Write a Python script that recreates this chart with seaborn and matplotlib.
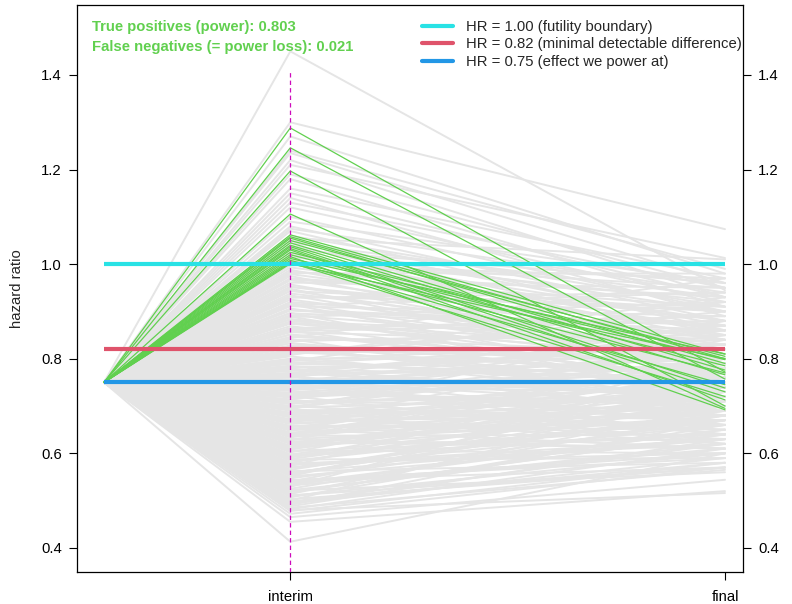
import numpy as np
import pandas as pd
import matplotlib
matplotlib.use("Agg")
import matplotlib.pyplot as plt
from matplotlib.lines import Line2D
import seaborn as sns

# ---------------- data ----------------
TIMES = [0.0, 0.3, 1.0]            # information fraction: start, interim, final
TICK_LABELS = ["interim", "final"]
START_HR = 0.75

# grey simulated trials: interim and final hazard ratio
GRAY_INTERIM = [
    1.45, 1.30, 1.27, 1.24, 1.235, 1.22, 1.21, 1.19, 1.18, 1.16,
    1.15, 1.14, 1.13, 1.12, 1.10, 1.09, 1.08, 1.075, 1.07, 1.06,
    1.055, 1.05, 1.045, 1.04, 1.035, 1.03, 1.025, 1.02, 1.015, 1.01, 1.005,
    0.998, 0.993, 0.988, 0.984, 0.979, 0.975, 0.970, 0.966, 0.961, 0.957,
    0.952, 0.948, 0.943, 0.938, 0.934, 0.929, 0.925, 0.920, 0.915, 0.911,
    0.906, 0.902, 0.897, 0.892, 0.888, 0.883, 0.879, 0.874, 0.869, 0.865,
    0.860, 0.856, 0.851, 0.846, 0.842, 0.837, 0.833, 0.828, 0.823, 0.819,
    0.814, 0.810, 0.805, 0.800, 0.797, 0.793, 0.789, 0.785, 0.781, 0.777,
    0.774, 0.770, 0.767, 0.763, 0.760, 0.756, 0.753, 0.749, 0.746, 0.742,
    0.739, 0.735, 0.732, 0.728, 0.725, 0.721, 0.718, 0.714, 0.711, 0.707,
    0.704, 0.700, 0.697, 0.693, 0.690, 0.686, 0.683, 0.679, 0.676, 0.672,
    0.669, 0.665, 0.662, 0.658, 0.655, 0.651, 0.648, 0.644, 0.641, 0.637,
    0.634, 0.630, 0.627, 0.623, 0.620, 0.616, 0.613, 0.609, 0.606, 0.602,
    0.598, 0.595, 0.591, 0.587, 0.584, 0.580, 0.576, 0.573, 0.569, 0.565,
    0.562, 0.558, 0.554, 0.551, 0.547, 0.543, 0.540, 0.536, 0.532, 0.529,
    0.525, 0.521, 0.518, 0.514, 0.510, 0.507, 0.503, 0.500, 0.497, 0.494,
    0.491, 0.488, 0.485, 0.482, 0.478,
    0.465, 0.455, 0.413, 0.480, 0.472,
    0.952, 0.931, 0.918, 0.903, 0.889, 0.876, 0.862, 0.851, 0.839, 0.826,
    0.817, 0.808, 0.799, 0.791, 0.784, 0.776, 0.769, 0.761, 0.754, 0.748,
    0.741, 0.734, 0.727, 0.720, 0.713, 0.706, 0.699, 0.692, 0.685, 0.678,
    0.671, 0.664, 0.657, 0.650, 0.643, 0.636, 0.629, 0.621, 0.613, 0.605,
    0.596, 0.588, 0.579, 0.570, 0.561, 0.552, 0.543, 0.533, 0.522, 0.511,
    0.981, 0.944, 0.913, 0.884, 0.858, 0.833, 0.812, 0.795, 0.779, 0.764,
    0.751, 0.737, 0.723, 0.709, 0.695, 0.681, 0.667, 0.652, 0.638, 0.624,
    0.609, 0.593, 0.576, 0.558, 0.539, 0.519, 0.498, 0.968, 0.896, 0.845,
]
GRAY_FINAL = [
    0.945, 1.074, 0.98, 0.99, 0.96, 0.93, 1.013, 0.95, 0.91, 0.97,
    0.93, 0.89, 0.95, 0.92, 0.90, 0.96, 0.88, 0.94, 0.86, 0.91,
    1.01, 0.87, 0.93, 0.85, 0.90, 0.96, 0.84, 0.88, 0.92, 0.86, 0.95,
    0.97, 0.88, 0.82, 0.93, 0.86, 0.79, 0.91, 0.84, 0.95, 0.80,
    0.87, 0.76, 0.90, 0.83, 0.78, 0.94, 0.81, 0.85, 0.74, 0.89,
    0.79, 0.86, 0.72, 0.82, 0.92, 0.77, 0.84, 0.80, 0.75, 0.88,
    0.73, 0.83, 0.78, 0.81, 0.70, 0.86, 0.76, 0.79, 0.82, 0.74,
    0.77, 0.90, 0.71, 0.80, 0.84, 0.75, 0.78, 0.68, 0.81, 0.76,
    0.83, 0.72, 0.78, 0.66, 0.87, 0.75, 0.70, 0.81, 0.64, 0.77,
    0.73, 0.85, 0.68, 0.79, 0.71, 0.62, 0.76, 0.82, 0.69, 0.74,
    0.80, 0.65, 0.72, 0.88, 0.67, 0.75, 0.70, 0.63, 0.78, 0.73,
    0.68, 0.84, 0.71, 0.66, 0.76, 0.61, 0.74, 0.69, 0.79, 0.64,
    0.72, 0.67, 0.81, 0.70, 0.63, 0.75, 0.68, 0.73, 0.60, 0.77,
    0.70, 0.64, 0.76, 0.59, 0.68, 0.73, 0.62, 0.80, 0.66, 0.71,
    0.58, 0.69, 0.74, 0.63, 0.67, 0.57, 0.72, 0.65, 0.61, 0.78,
    0.68, 0.56, 0.64, 0.70, 0.60, 0.66, 0.57, 0.73, 0.62, 0.59,
    0.67, 0.63, 0.565, 0.61, 0.58,
    0.544, 0.52, 0.60, 0.516, 0.57,
    0.84, 0.91, 0.78, 0.87, 0.74, 0.82, 0.89, 0.76, 0.85, 0.71,
    0.80, 0.93, 0.73, 0.83, 0.77, 0.69, 0.86, 0.72, 0.79, 0.66,
    0.75, 0.82, 0.70, 0.77, 0.64, 0.74, 0.80, 0.68, 0.72, 0.62,
    0.76, 0.70, 0.65, 0.79, 0.67, 0.73, 0.61, 0.69, 0.75, 0.64,
    0.66, 0.71, 0.60, 0.68, 0.63, 0.74, 0.59, 0.65, 0.62, 0.57,
    0.98, 0.81, 0.94, 0.79, 0.88, 0.73, 0.83, 0.92, 0.71, 0.80,
    0.85, 0.68, 0.78, 0.72, 0.82, 0.66, 0.74, 0.70, 0.77, 0.61,
    0.72, 0.67, 0.63, 0.69, 0.60, 0.64, 0.58, 0.90, 0.86, 0.97,
]

# green: stopped for futility at interim but would have succeeded at final
GREEN_INTERIM = [1.288, 1.246, 1.197, 1.106, 1.062, 1.058, 1.055, 1.050, 1.045, 1.040,
                 1.037, 1.033, 1.030, 1.025, 1.020, 1.016, 1.012, 1.008, 1.005, 1.003, 1.001]
GREEN_FINAL = [0.772, 0.757, 0.700, 0.695, 0.810, 0.800, 0.790, 0.805, 0.776, 0.766,
               0.738, 0.730, 0.713, 0.798, 0.785, 0.692, 0.810, 0.770, 0.745, 0.720, 0.800]

REF_HR = [1.00, 0.82, 0.75]
REF_LABELS = ["HR = 1.00 (futility boundary)",
              "HR = 0.82 (minimal detectable difference)",
              "HR = 0.75 (effect we power at)"]
POWER = 0.803
POWER_LOSS = 0.021
Y_TICKS = [0.4, 0.6, 0.8, 1.0, 1.2, 1.4]
VLINE_TOP = 1.41


def to_long(interim, final):
    rows = []
    for i, (a, b) in enumerate(zip(interim, final)):
        for t, v in zip(TIMES, [START_HR, a, b]):
            rows.append({"sim": i, "info": t, "hr": v})
    return pd.DataFrame(rows)


gray_df = to_long(GRAY_INTERIM, GRAY_FINAL)
green_df = to_long(GREEN_INTERIM, GREEN_FINAL)

# ---------------- style ----------------
sns.set_theme(style="white")
plt.rcParams["font.family"] = ["Liberation Sans", "DejaVu Sans"]

GRAY = "#E5E5E5"
GREEN = "#61D04F"
REF_COLORS = ["#28E2E5", "#DF536B", "#2297E6"]
MAGENTA = "#CD0BBC"
FS = 10.7

fig = plt.figure(figsize=(7.92, 6.04), dpi=100)
ax = fig.add_axes([77 / 792, 1 - 572 / 604, 666 / 792, 567 / 604])

sns.lineplot(data=gray_df, x="info", y="hr", units="sim", estimator=None,
             color=GRAY, lw=1.4, sort=False, ax=ax, legend=False, zorder=1)
sns.lineplot(data=green_df, x="info", y="hr", units="sim", estimator=None,
             color=GREEN, lw=0.9, sort=False, ax=ax, legend=False, zorder=2)

for y, c in zip(REF_HR, REF_COLORS):
    ax.hlines(y, TIMES[0], TIMES[-1], color=c, lw=3, zorder=3)

ax.set_xlim(-0.0435, 1.029)
ax.set_ylim(0.349, 1.548)
ax.plot([TIMES[1], TIMES[1]], [ax.get_ylim()[0], VLINE_TOP], color=MAGENTA,
        lw=0.9, dashes=(3.5, 2.5), zorder=4)

ax.set_xticks(TIMES[1:])
ax.set_xticklabels(TICK_LABELS)
ax.set_yticks(Y_TICKS)
ax.set_yticklabels([f"{v:.1f}" for v in Y_TICKS])
ax.set_xlabel("")
ax.set_ylabel("hazard ratio", fontsize=FS, labelpad=12)
ax.tick_params(axis="both", direction="out", length=6, width=0.8, color="black",
               labelsize=FS, labelcolor="black", pad=5)
ax.tick_params(axis="y", left=True, right=True, labelleft=True, labelright=True)
ax.tick_params(axis="x", bottom=True, pad=7)
for s in ax.spines.values():
    s.set_color("black")
    s.set_linewidth(0.9)

ax.text(0.0225, 0.962, f"True positives (power): {POWER:.3f}", transform=ax.transAxes,
        color=GREEN, fontsize=FS, fontweight="bold", va="center", ha="left")
ax.text(0.0225, 0.926, f"False negatives (= power loss): {POWER_LOSS:.3f}",
        transform=ax.transAxes, color=GREEN, fontsize=FS, fontweight="bold",
        va="center", ha="left")

handles = [Line2D([0], [0], color=c, lw=3) for c in REF_COLORS]
leg = ax.legend(handles, REF_LABELS, loc="upper left", bbox_to_anchor=(0.518, 0.974),
                frameon=False, fontsize=FS, handlelength=2.1, handletextpad=0.85,
                labelspacing=0.25, borderpad=0, borderaxespad=0)

fig.savefig("out.png", dpi=100)
